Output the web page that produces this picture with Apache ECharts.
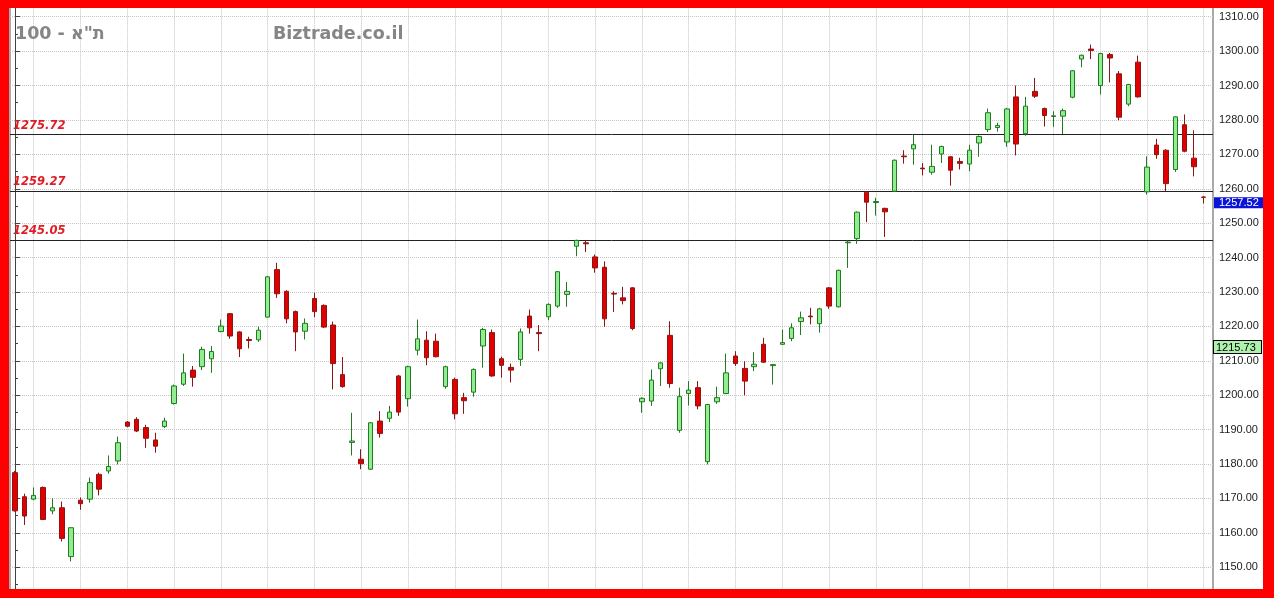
<!DOCTYPE html>
<html><head><meta charset="utf-8">
<script src="https://cdn.jsdelivr.net/npm/echarts@6/dist/echarts.min.js"></script>
<style>html,body{margin:0;padding:0;background:#fff}#c{width:1274px;height:598px}</style>
</head><body><div id="c"></div>
<script>
// trading-day categories (no date labels are shown on the chart)
const categories = Array.from({length: 128}, (_, i) => 'D' + (i + 1));

const opens = [
1177.5,1170.5,1169.8,1173.2,1166.4,1167.3,1153.1,1169.5,1169.8,1177.0,
1178.0,1180.9,1192.2,1193.0,1190.6,1187.0,1190.9,1197.6,1203.2,1207.3,
1208.3,1210.6,1218.5,1223.7,1218.4,1216.2,1216.1,1222.7,1236.5,1230.2,
1224.3,1218.6,1228.1,1226.1,1220.4,1206.0,1186.3,1181.4,1178.5,1192.5,
1193.3,1205.6,1199.0,1213.1,1216.0,1215.7,1202.5,1204.6,1199.3,1200.9,
1214.3,1218.2,1210.6,1208.1,1210.4,1223.0,1218.2,1222.8,1225.9,1229.3,
1243.3,1244.3,1240.2,1237.2,1229.6,1228.3,1231.2,1198.1,1198.3,1207.7,
1217.4,1189.8,1200.5,1202.2,1180.7,1198.1,1200.5,1211.4,1207.8,1208.3,
1214.8,1208.6,1214.8,1216.5,1221.4,1223.0,1220.8,1231.2,1225.7,1244.3,
1245.5,1259.0,1256.0,1254.3,1259.3,1269.5,1271.6,1266.0,1264.8,1270.1,
1269.3,1267.9,1267.2,1273.3,1277.2,1277.8,1273.6,1286.7,1276.0,1288.3,
1283.3,1281.0,1281.1,1286.6,1297.7,1300.6,1290.0,1299.0,1293.4,1284.6,
1296.8,1259.1,1272.7,1271.2,1265.6,1278.6,1268.9,1257.6];
const highs = [
1178.0,1171.4,1173.2,1173.5,1170.0,1169.1,1161.6,1170.3,1176.1,1177.5,
1182.5,1188.0,1192.5,1193.6,1191.4,1189.1,1193.5,1203.1,1212.1,1208.5,
1214.1,1214.3,1222.0,1223.9,1218.6,1217.0,1219.9,1234.6,1238.5,1230.5,
1224.6,1222.3,1229.8,1226.4,1221.4,1211.1,1194.9,1184.3,1192.2,1195.4,
1196.9,1205.9,1208.6,1222.0,1218.6,1217.9,1208.6,1205.1,1200.7,1207.8,
1219.6,1219.1,1211.2,1209.2,1219.4,1224.9,1220.4,1226.7,1236.1,1232.9,
1245.2,1245.0,1240.9,1238.9,1230.2,1231.5,1231.4,1199.4,1207.5,1209.6,
1221.5,1202.2,1204.1,1204.1,1197.5,1202.5,1212.1,1212.8,1209.9,1212.5,
1216.7,1209.1,1219.1,1220.9,1224.3,1225.4,1225.4,1231.4,1236.5,1245.0,
1253.4,1259.3,1257.4,1254.5,1268.5,1271.2,1275.7,1267.5,1272.8,1272.5,
1269.5,1269.0,1272.8,1275.5,1283.3,1279.2,1283.5,1290.0,1286.7,1292.2,
1283.6,1282.5,1283.3,1294.5,1299.0,1301.9,1299.5,1299.5,1294.2,1290.5,
1298.7,1269.4,1274.5,1271.5,1281.0,1281.6,1277.0,1257.8];
const lows = [
1166.2,1162.3,1169.5,1163.7,1165.4,1157.5,1151.7,1166.7,1168.8,1170.9,
1177.2,1179.9,1190.7,1189.3,1184.7,1183.3,1190.5,1197.3,1202.7,1202.5,
1207.3,1206.5,1218.3,1216.4,1211.1,1213.6,1215.5,1222.5,1228.3,1220.9,
1212.8,1216.2,1222.7,1219.5,1201.7,1202.2,1182.5,1178.5,1178.3,1187.7,
1192.2,1194.0,1196.7,1211.6,1208.7,1211.0,1201.9,1193.0,1194.6,1199.6,
1208.0,1205.4,1205.1,1203.7,1208.5,1217.9,1212.8,1221.8,1225.4,1225.7,
1240.4,1241.6,1235.6,1219.9,1224.2,1226.4,1218.9,1194.9,1196.9,1202.7,
1202.2,1189.1,1197.0,1195.9,1179.9,1197.5,1200.3,1208.5,1200.0,1207.0,
1209.4,1203.1,1214.6,1215.7,1217.5,1220.6,1218.2,1225.1,1225.5,1237.0,
1244.0,1250.3,1252.2,1246.0,1259.1,1267.3,1267.0,1263.9,1264.1,1267.5,
1260.9,1265.6,1265.1,1269.3,1276.5,1276.6,1272.2,1269.7,1275.4,1286.4,
1278.1,1278.0,1275.9,1286.3,1295.3,1297.7,1287.4,1290.9,1279.9,1284.0,
1286.5,1258.3,1268.7,1259.3,1264.9,1270.6,1263.6,1255.7];
const closes = [
1166.4,1164.9,1170.9,1163.9,1167.3,1158.4,1161.5,1168.5,1174.6,1172.7,
1179.3,1186.2,1191.0,1189.6,1187.5,1185.2,1192.5,1202.7,1206.5,1205.2,
1213.3,1212.7,1220.1,1217.2,1213.5,1215.9,1218.9,1234.4,1229.5,1222.2,
1218.4,1220.9,1224.3,1219.8,1209.2,1202.5,1186.7,1180.1,1192.0,1188.9,
1195.1,1195.1,1208.3,1216.4,1210.9,1211.2,1208.3,1194.6,1198.4,1207.5,
1219.1,1205.6,1208.7,1207.3,1218.4,1219.6,1217.9,1226.4,1235.9,1230.2,
1245.0,1244.0,1237.0,1222.2,1229.4,1227.5,1219.4,1199.1,1204.4,1209.4,
1203.4,1199.6,1201.5,1196.9,1197.3,1199.3,1206.5,1209.2,1204.1,1209.0,
1209.6,1208.9,1215.3,1219.6,1222.5,1222.8,1225.1,1225.9,1236.3,1244.5,
1253.2,1256.1,1256.3,1253.3,1268.3,1269.3,1272.8,1265.8,1266.5,1272.3,
1265.4,1267.4,1271.2,1275.2,1282.1,1278.4,1283.2,1273.0,1284.0,1286.9,
1281.3,1281.2,1282.7,1294.3,1298.8,1300.2,1299.3,1298.0,1280.8,1290.3,
1286.7,1266.3,1269.9,1261.5,1280.9,1270.9,1266.4,1257.52];

// horizontal reference levels drawn on the chart
const levels = [1275.72, 1259.27, 1245.05];
const lastPrice = 1257.52;
const secondPrice = 1215.73;
// first trading day of each week (0-based day index), where the vertical grid lines are
const weekDays = [2,7,12,17,22,27,32,37,42,47,52,57,62,67,72,77,82,87,92,97,102,106,111,116,121,127];
const titleText = '100 - ת"א';
const siteText = 'Biztrade.co.il';

const candleData = categories.map((c, i) => [i, opens[i], closes[i], lows[i], highs[i]]);

const markData = [];
weekDays.forEach(d => markData.push({
  xAxis: d, label: {show: false},
  lineStyle: {color: '#c4c4c4', type: 'dotted', width: 1}
}));
levels.forEach(v => markData.push({
  yAxis: v,
  lineStyle: {color: '#222', type: 'solid', width: 1},
  label: {show: true, position: 'insideStartTop', formatter: v.toFixed(2), distance: 3,
    color: '#e01c24', fontFamily: 'DejaVu Sans', fontStyle: 'italic', fontWeight: 'bold', fontSize: 11.5}
}));
markData.push({
  yAxis: lastPrice, lineStyle: {color: 'rgba(0,0,0,0)', width: 0},
  label: {show: true, position: 'end', formatter: lastPrice.toFixed(2), distance: 1,
    verticalAlign: 'top', backgroundColor: '#0a14d8', color: '#ffffff',
    fontFamily: 'Liberation Sans', fontSize: 11, lineHeight: 11, padding: [0, 5, 0, 5], width: 39}
});
markData.push({
  yAxis: secondPrice, lineStyle: {color: 'rgba(0,0,0,0)', width: 0},
  label: {show: true, position: 'end', formatter: secondPrice.toFixed(2), distance: 1,
    verticalAlign: 'top', backgroundColor: '#aef2ae', color: '#000', borderColor: '#000', borderWidth: 1,
    fontFamily: 'Liberation Sans', fontSize: 11, lineHeight: 11, padding: [1, 5, 0, 2], width: 40}
});

const chart = echarts.init(document.getElementById('c'), null, {renderer: 'canvas'});
chart.setOption({
  animation: false,
  backgroundColor: '#ffffff',
  grid: {left: 10, right: 61, top: -17.7, bottom: -3.7, show: true, outerBoundsMode: 'none',
    borderColor: '#555', borderWidth: 1, backgroundColor: 'transparent', containLabel: false},
  xAxis: {type: 'value', min: -0.534, max: 128.03,
    axisLine: {show: false}, axisTick: {show: false}, axisLabel: {show: false}, splitLine: {show: false}},
  yAxis: {type: 'value', position: 'right', min: 1140, max: 1320, interval: 10,
    axisLine: {show: true, lineStyle: {color: '#444'}},
    axisTick: {show: true, length: 5, lineStyle: {color: '#444'}},
    minorTick: {show: true, splitNumber: 2, length: 3, lineStyle: {color: '#444'}},
    axisLabel: {formatter: v => v.toFixed(2), color: '#222', fontFamily: 'Liberation Sans', fontSize: 11, margin: 6},
    splitLine: {show: true, lineStyle: {color: '#c4c4c4', type: 'dotted', width: 1}}},
  series: [{
    type: 'candlestick', data: candleData, encode: {x: 0, y: [1, 2, 3, 4]},
    barWidth: 5,
    itemStyle: {color: '#90ee90', color0: '#e00000', borderColor: '#217a21', borderColor0: '#8e1414', borderWidth: 1},
    markLine: {silent: true, symbol: 'none', z: 1, animation: false, precision: 2, data: markData}
  }],
  graphic: [
    {type: 'rect', z: 100, shape: {x: 0, y: 0, width: 1274, height: 8}, style: {fill: '#fe0000'}},
    {type: 'rect', z: 100, shape: {x: 0, y: 589, width: 1274, height: 9}, style: {fill: '#fe0000'}},
    {type: 'rect', z: 100, shape: {x: 0, y: 0, width: 9, height: 598}, style: {fill: '#fe0000'}},
    {type: 'rect', z: 100, shape: {x: 1263, y: 0, width: 11, height: 598}, style: {fill: '#fe0000'}},
    {type: 'text', z: 101, x: 15, y: 34, style: {text: titleText, fill: '#858585',
      font: 'bold 17.5px "DejaVu Sans"', textVerticalAlign: 'middle'}},
    {type: 'text', z: 101, x: 273, y: 34, style: {text: siteText, fill: '#858585',
      font: 'bold 17.5px "DejaVu Sans"', textVerticalAlign: 'middle'}}
  ]
});
</script></body></html>
